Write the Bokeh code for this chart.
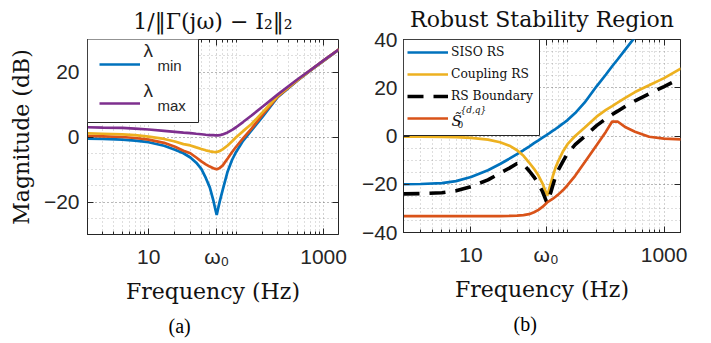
from bokeh.plotting import figure
from bokeh.layouts import row
from bokeh.models import (FixedTicker, Legend, LegendItem, Label, Range1d, Title,
                          LinearAxis, LogAxis, CustomJSTickFormatter, BoxAnnotation)
from bokeh.embed import file_html
from bokeh.resources import INLINE

# ---------------- data ----------------
freq_a = [2, 3, 5, 7, 10, 15, 20, 25, 30, 35, 40, 45, 50, 55, 58, 60, 62, 65, 70,
          80, 90, 100, 120, 150, 200, 300, 500, 700, 1000, 1500]
lam_min = [-0.5, -0.6, -0.8, -1.1, -1.6, -2.7, -3.9, -5.0, -6.3, -7.9, -9.8, -12.6,
           -15.5, -19.6, -22.4, -24.0, -22.2, -19.8, -16.4, -10.6, -7.0, -4.6, -1.2,
           2.0, 6.2, 12.3, 17.3, 20.3, 23.4, 26.9]
lam_2 = [0.3, 0.2, 0.0, -0.3, -0.8, -1.8, -3.0, -4.2, -5.0, -6.3, -7.5, -8.4, -9.1,
         -9.6, -9.8, -9.9, -9.8, -9.5, -8.8, -6.6, -4.6, -3.0, -0.4, 2.6, 6.8, 12.5,
         17.4, 20.4, 23.5, 27.0]
lam_3 = [1.1, 1.0, 0.8, 0.6, 0.1, -0.6, -1.4, -2.2, -2.6, -3.2, -3.7, -4.1, -4.4,
         -4.6, -4.65, -4.6, -4.5, -4.3, -3.8, -2.6, -1.3, -0.1, 1.8, 4.0, 7.6, 12.7,
         17.5, 20.4, 23.5, 27.0]
lam_max = [3.0, 2.9, 2.8, 2.6, 2.3, 1.9, 1.6, 1.35, 1.2, 1.0, 0.85, 0.7, 0.6, 0.55,
           0.5, 0.5, 0.5, 0.55, 0.8, 1.4, 2.2, 3.0, 4.6, 6.6, 9.3, 13.1, 17.7, 20.5,
           23.6, 27.0]

freq_b = [2, 3, 5, 7, 10, 15, 20, 25, 30, 35, 40, 45, 50, 55, 60, 62, 65, 70, 75, 80,
          90, 100, 120, 150, 200, 250, 290, 330, 400, 500, 700, 1000, 1500]
siso_rs = [-20.0, -19.9, -19.5, -18.7, -17.0, -14.2, -11.6, -9.4, -7.5, -5.9, -4.4,
           -3.0, -1.8, -0.7, 0.3, 0.7, 1.2, 2.1, 2.9, 3.7, 5.2, 6.6, 9.5, 13.8, 20.6,
           25.5, 28.9, 31.7, 36.0, 41.0, 47.0, 53.0, 60.0]
coupling_rs = [-0.3, -0.3, -0.4, -0.5, -0.8, -1.5, -2.6, -4.0, -5.9, -8.2, -11.0,
               -13.6, -16.4, -19.6, -23.5, -24.6, -21.5, -17.0, -13.2, -10.5, -6.3,
               -3.4, 0.0, 3.4, 8.0, 10.8, 12.4, 13.8, 15.9, 18.2, 21.0, 24.0, 28.0]
rs_boundary = [-24.0, -23.9, -23.5, -22.7, -21.0, -18.2, -15.4, -13.3, -11.4, -11.8,
               -14.4, -17.0, -19.8, -23.0, -26.8, -28.0, -25.3, -20.8, -16.9, -14.2,
               -10.4, -7.3, -3.6, -0.2, 4.3, 7.2, 8.9, 10.3, 12.4, 14.6, 17.5, 20.5,
               24.0]
s0_dq = [-33.2, -33.2, -33.2, -33.2, -33.2, -33.2, -33.2, -33.1, -33.0, -32.8, -32.4,
         -31.6, -30.6, -29.4, -28.0, -27.4, -26.9, -26.1, -25.2, -24.3, -22.4, -20.4,
         -16.5, -11.0, -3.8, 1.8, 6.0, 6.0, 3.6, 1.8, -0.3, -1.1, -1.4]

x_ticks = [10, 60, 1000]
x_tick_labels = ["10", "ω₀", "1000"]
x_minor = [2, 3, 4, 5, 6, 7, 8, 9, 20, 30, 40, 50, 70, 80, 90, 100,
           200, 300, 400, 500, 600, 700, 800, 900]
ya_ticks = [-20, 0, 20]
ya_minor = list(range(-30, 31, 5))
yb_ticks = [-40, -20, 0, 20, 40]
yb_minor = list(range(-40, 41, 5))

BLUE, RED, YELLOW, PURPLE = "#0072BD", "#D95319", "#EDB120", "#7E2F8E"
AX = "#262626"
SERIF = "DejaVu Serif"
SANS = "Liberation Sans"
SHIFT = 12   # whole layout is lifted by this many pixels (CSS margin)


def make_fig(title, standoff, yr, yt, ym, fw, fh, bl, br, bt, bb):
    p = figure(x_axis_type="log", x_range=Range1d(2, 1480), y_range=Range1d(*yr),
               frame_width=fw, frame_height=fh, min_border_left=bl,
               min_border_right=br, min_border_top=bt + SHIFT, min_border_bottom=bb,
               output_backend="svg", toolbar_location=None)
    p.title.text = title
    p.title.text_font = SERIF
    p.title.text_font_size = "22px"
    p.title.text_font_style = "normal"
    p.title.text_color = "#111111"
    p.title.align = "center"
    p.title.standoff = standoff
    p.outline_line_color = AX
    p.outline_line_width = 1
    p.outline_line_alpha = 1
    xt = FixedTicker(ticks=x_ticks, minor_ticks=x_minor)
    ytk = FixedTicker(ticks=yt, minor_ticks=ym)
    xa, ya = p.xaxis[0], p.yaxis[0]
    xa.ticker = xt
    ya.ticker = ytk
    xa.major_label_overrides = dict(zip(x_ticks, x_tick_labels))
    for ax in (xa, ya):
        ax.axis_line_color = AX
        ax.major_tick_line_color = AX
        ax.major_tick_in = 6
        ax.major_tick_out = 0
        ax.minor_tick_in = 3
        ax.minor_tick_out = 0
        ax.major_label_text_font = SANS
        ax.major_label_text_font_size = "21px"
        ax.major_label_text_color = AX
        ax.axis_label_text_font = SERIF
        ax.axis_label_text_font_style = "normal"
        ax.axis_label_text_font_size = "22px"
        ax.axis_label_text_color = "#111111"
    xa.minor_tick_line_color = AX
    ya.minor_tick_line_color = None
    xa.major_label_standoff = 10
    xa.axis_label = "Frequency (Hz)"
    xa.axis_label_standoff = 8
    for g in (p.xgrid[0], p.ygrid[0]):
        g.grid_line_color = AX
        g.grid_line_alpha = 0.4
        g.grid_line_dash = "1 3"
        g.minor_grid_line_color = AX
        g.minor_grid_line_alpha = 0.3
        g.minor_grid_line_dash = "1 3"
    # mirrored ticks on the top and right (box on)
    blank = CustomJSTickFormatter(code="return ''")
    right = LinearAxis(ticker=ytk, formatter=blank, axis_line_color=None,
                       major_tick_in=6, major_tick_out=0, minor_tick_line_color=None,
                       major_tick_line_color=AX, major_label_standoff=0,
                       major_label_text_font_size="1px")
    top = LogAxis(ticker=xt, formatter=blank, axis_line_color=None,
                  major_tick_in=6, major_tick_out=0, minor_tick_in=3, minor_tick_out=0,
                  major_tick_line_color=AX, minor_tick_line_color=AX,
                  major_label_standoff=0, major_label_text_font_size="1px")
    p.add_layout(right, "right")
    p.add_layout(top, "above")
    return p


def lbl(p, x, y, text, font=SERIF, size="22px", style="normal", color="#111111"):
    p.add_layout(Label(x=x, y=y + SHIFT, x_units="canvas", y_units="canvas",
                       text=text, text_font=font, text_font_size=size,
                       text_align="left", text_baseline="alphabetic",
                       text_font_style=style, text_color=color, level="overlay"))


def legend_box(p, l, r, t, b):
    p.add_layout(BoxAnnotation(left=l, right=r, top=t + SHIFT, bottom=b + SHIFT,
                               left_units="canvas", right_units="canvas",
                               top_units="canvas", bottom_units="canvas",
                               fill_color="white", fill_alpha=1,
                               line_color=AX, line_width=1, line_alpha=1))


def caption(p, text, offset):
    p.add_layout(Title(text=text, align="left", offset=offset,
                       text_font="Liberation Serif", text_font_size="20px",
                       text_font_style="normal", text_color="black",
                       standoff=13), "below")


# ---------------- (a) ----------------
pa = make_fig("1/‖Γ(jω) − I₂‖₂", 11, (-30, 30), ya_ticks, ya_minor,
              251, 195, 87, 17, 36, 112)
pa.yaxis[0].axis_label = "Magnitude (dB)"
pa.yaxis[0].major_label_standoff = 8
pa.yaxis[0].axis_label_standoff = 7

lw = 2.7
ra1 = pa.line(freq_a, lam_min, line_color=BLUE, line_width=lw)
ra2 = pa.line(freq_a, lam_2, line_color=RED, line_width=lw)
ra3 = pa.line(freq_a, lam_3, line_color=YELLOW, line_width=lw)
ra4 = pa.line(freq_a, lam_max, line_color=PURPLE, line_width=lw)

legend_box(pa, 87, 198, 36, 122)
leg_a = Legend(items=[LegendItem(label=" ", renderers=[ra1]),
                      LegendItem(label=" ", renderers=[ra4])],
               location="top_left", margin=12, padding=0, spacing=13,
               glyph_width=41, glyph_height=26, label_height=26, label_standoff=4,
               label_text_font=SANS, label_text_font_size="15px",
               border_line_color=None, background_fill_alpha=0)
pa.add_layout(leg_a)
lbl(pa, 143, 50, "λ", font=SANS, size="19px", color=AX)
lbl(pa, 157, 65, "min", font=SANS, size="15px", color=AX)
lbl(pa, 143, 90, "λ", font=SANS, size="19px", color=AX)
lbl(pa, 157, 105, "max", font=SANS, size="15px", color=AX)
caption(pa, "(a)", 81)

# ---------------- (b) ----------------
pb = make_fig("Robust Stability Region", 15, (-40, 40), yb_ticks, yb_minor,
              277, 193, 48, 31, 39, 111)
pb.yaxis[0].major_label_standoff = 6

rb1 = pb.line(freq_b, siso_rs, line_color=BLUE, line_width=lw)
rb2 = pb.line(freq_b, coupling_rs, line_color=YELLOW, line_width=lw)
rb3 = pb.line(freq_b, rs_boundary, line_color="black", line_width=3.6,
              line_dash="16 10")
rb4 = pb.line(freq_b, s0_dq, line_color=RED, line_width=lw)

legend_box(pb, 48, 184, 39, 135)
leg_b = Legend(items=[LegendItem(label="SISO RS", renderers=[rb1]),
                      LegendItem(label="Coupling RS", renderers=[rb2]),
                      LegendItem(label="RS Boundary", renderers=[rb3]),
                      LegendItem(label=" ", renderers=[rb4])],
               location="top_left", margin=4, padding=0, spacing=4,
               glyph_width=41, glyph_height=18, label_height=18, label_standoff=3,
               label_text_font=SERIF, label_text_font_size="12.3px",
               label_text_color="#111111",
               border_line_color=None, background_fill_alpha=0)
pb.add_layout(leg_b)
lbl(pb, 96, 120, "S̃", size="15px", style="italic")
lbl(pb, 105, 109, "{d,q}", size="9px", style="italic")
lbl(pb, 102, 124, "0", size="9px")
caption(pb, "(b)", 110)

layout = row(pa, pb, styles={"margin-top": f"-{SHIFT}px"})
open("out.html", "w").write(file_html(layout, INLINE))
